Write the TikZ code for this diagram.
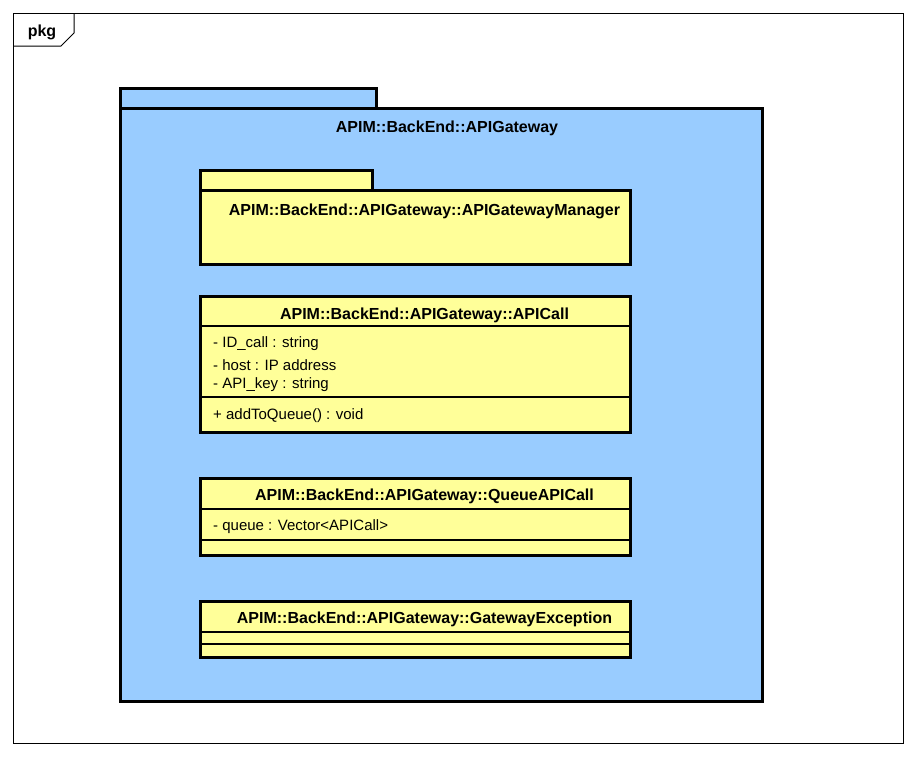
\documentclass[tikz,border=0pt]{standalone}
\usepackage{fontspec}
\setmainfont{Liberation Sans}
\definecolor{pkgblue}{HTML}{99CCFF}
\definecolor{clsyellow}{HTML}{FFFF99}
\begin{document}
\begin{tikzpicture}[x=1pt,y=-1pt,
  heavy/.style={line width=3pt, draw=black},
  titletext/.style={font=\fontsize{16}{18}\selectfont\bfseries, inner sep=0pt},
  attrtext/.style={font=\fontsize{15}{17}\selectfont, anchor=west, inner sep=0pt},
  sepline/.style={line width=1.2pt}]
\useasboundingbox (0,0) rectangle (914,756);
% frame
\draw[line width=1pt] (13,13) rectangle (903,743);
\draw[line width=1pt] (13,46) -- (61,46) -- (74,33) -- (74,13);
\node[titletext] (pkg) at (42,32) {pkg};
% big package
\draw[heavy, fill=pkgblue] (120,88) rectangle (376,108);
\draw[heavy, fill=pkgblue] (120,108) rectangle (762,701);
\node[titletext] (gw) at (447,128) {APIM::BackEnd::APIGateway};
% inner package
\draw[heavy, fill=clsyellow] (200,170) rectangle (372,190);
\draw[heavy, fill=clsyellow] (200,190) rectangle (630,264);
\node[titletext] (mgr) at (424.5,211) {APIM::BackEnd::APIGateway::APIGatewayManager};
% APICall
\draw[heavy, fill=clsyellow] (200,296) rectangle (630,432);
\node[titletext] (call) at (424.5,315) {APIM::BackEnd::APIGateway::APICall};
\draw[sepline] (200,326) -- (630,326);
\node[attrtext] (a1) at (213,344) {- ID\_call : string};
\node[attrtext] (a2) at (213,365) {- host : IP address};
\node[attrtext] (a3) at (213,385) {- API\_key : string};
\draw[sepline] (200,397) -- (630,397);
\node[attrtext] (m1) at (213,416) {+ addToQueue() : void};
% QueueAPICall
\draw[heavy, fill=clsyellow] (200,478) rectangle (630,555);
\node[titletext] (queue) at (424.5,496) {APIM::BackEnd::APIGateway::QueueAPICall};
\draw[sepline] (200,509) -- (630,509);
\node[attrtext] (q1) at (213,527) {- queue : Vector<APICall>};
\draw[sepline] (200,540) -- (630,540);
% GatewayException
\draw[heavy, fill=clsyellow] (200,601) rectangle (630,657);
\node[titletext] (exc) at (424.5,619) {APIM::BackEnd::APIGateway::GatewayException};
\draw[sepline] (200,632) -- (630,632);
\draw[sepline] (200,644) -- (630,644);
\end{tikzpicture}
\end{document}
